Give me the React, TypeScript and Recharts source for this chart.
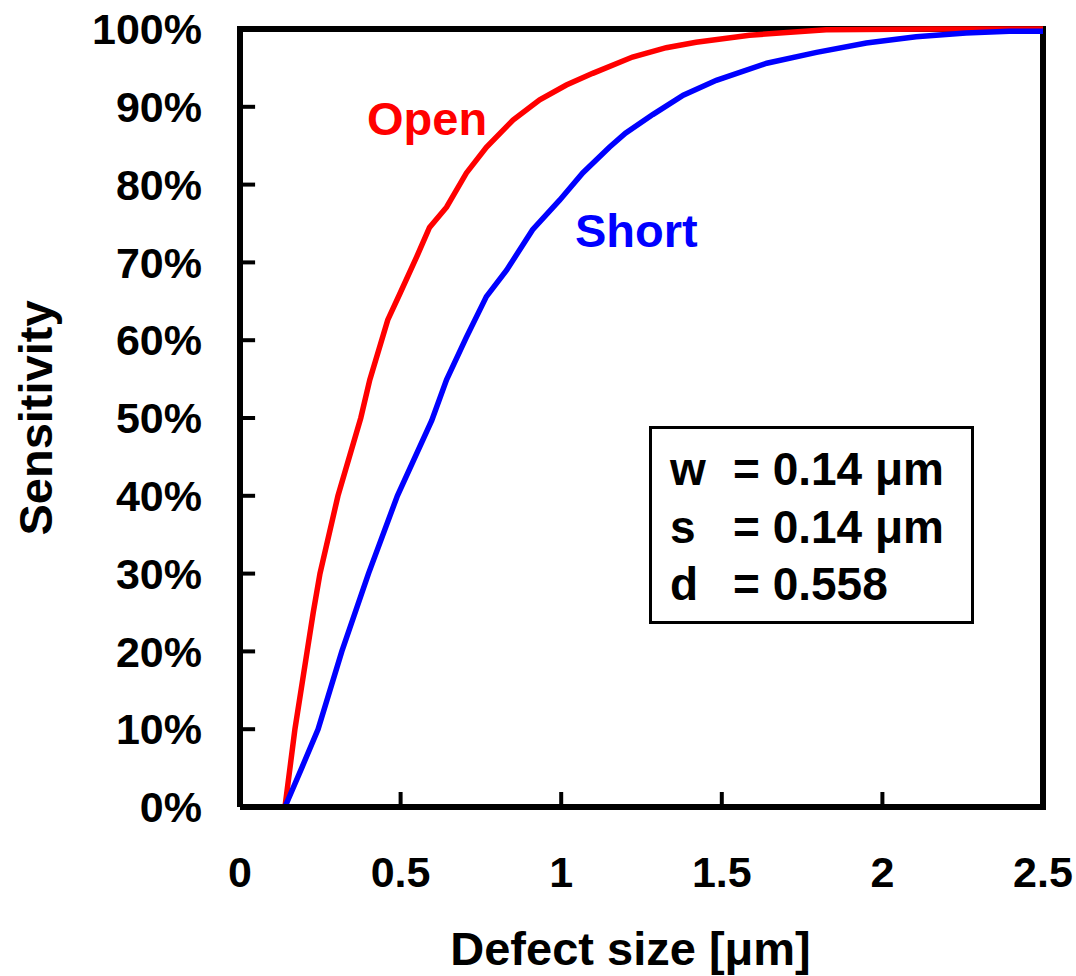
import React from 'react';
import { LineChart, Line, XAxis, YAxis, ReferenceLine } from 'recharts';

// Open (red) curve
const openX = [0.14, 0.171, 0.209, 0.228, 0.249, 0.305, 0.376, 0.404, 0.46, 0.498, 0.55, 0.59, 0.643, 0.705, 0.767, 0.85, 0.933, 1.016, 1.098, 1.222, 1.327, 1.42, 1.586, 1.825, 2.15, 2.5];
const openY = [0, 0.1, 0.2, 0.25, 0.3, 0.4, 0.5, 0.549, 0.626, 0.66, 0.707, 0.745, 0.771, 0.815, 0.848, 0.883, 0.909, 0.928, 0.943, 0.964, 0.976, 0.983, 0.992, 0.999, 1.0, 1.0];

// Short (blue) curve
const shortX = [0.14, 0.193, 0.243, 0.317, 0.4, 0.49, 0.597, 0.643, 0.705, 0.767, 0.83, 0.911, 0.995, 1.067, 1.15, 1.2, 1.285, 1.38, 1.483, 1.64, 1.795, 1.95, 2.105, 2.26, 2.395, 2.5];
const shortY = [0, 0.051, 0.1, 0.2, 0.3, 0.4, 0.497, 0.549, 0.604, 0.656, 0.69, 0.742, 0.78, 0.815, 0.848, 0.866, 0.89, 0.915, 0.934, 0.956, 0.97, 0.982, 0.99, 0.995, 0.997, 0.997];

const xTicks = [0, 0.5, 1, 1.5, 2, 2.5];
const yTicks = [0, 0.1, 0.2, 0.3, 0.4, 0.5, 0.6, 0.7, 0.8, 0.9, 1];

const params = [
  { name: 'w', value: '= 0.14 μm' },
  { name: 's', value: '= 0.14 μm' },
  { name: 'd', value: '= 0.558' },
];

const openData = openX.map((x, i) => ({ x, y: openY[i] }));
const shortData = shortX.map((x, i) => ({ x, y: shortY[i] }));

// inward tick marks, in axis units (~15px long)
const Y_TICK_LEN = 0.047;
const X_TICK_LEN = 0.0193;
const yTickMarks = yTicks.slice(1, -1).map((v) => [{ x: 0, y: v }, { x: Y_TICK_LEN, y: v }]);
const xTickMarks = xTicks.slice(1, -1).map((v) => [{ x: v, y: 0 }, { x: v, y: X_TICK_LEN }]);

const FONT = '"Liberation Sans", Arial, sans-serif';
const frame = { stroke: '#000', strokeWidth: 6 };
const tickFont = { fill: '#000', fontSize: 43, fontWeight: 'bold', fontFamily: FONT };
const titleFont = { fill: '#000', fontSize: 47, fontWeight: 'bold', fontFamily: FONT };

const note = (left: number, top: number, color: string, size: number): React.CSSProperties => ({
  position: 'absolute',
  left,
  top,
  color,
  fontFamily: FONT,
  fontWeight: 'bold',
  fontSize: size,
  lineHeight: `${size}px`,
  whiteSpace: 'pre',
});

export default function App() {
  return (
    <div style={{ position: 'absolute', left: 0, top: 0, width: 1076, height: 976, background: '#fff' }}>
      <LineChart width={1076} height={976} margin={{ top: 29, right: 33, left: 0, bottom: 0 }}>
        <XAxis
          type="number"
          dataKey="x"
          domain={[0, 2.5]}
          ticks={xTicks}
          interval={0}
          height={169}
          axisLine={frame}
          tickLine={false}
          tickSize={0}
          tickMargin={49}
          tick={tickFont}
          label={{ value: 'Defect size [μm]', position: 'insideBottom', offset: 11, dx: -11, style: titleFont }}
        />
        <YAxis
          type="number"
          domain={[0, 1]}
          ticks={yTicks}
          interval={0}
          width={240}
          axisLine={frame}
          tickLine={false}
          tickSize={0}
          tickMargin={38}
          tick={tickFont}
          tickFormatter={(v: number) => `${Math.round(v * 100)}%`}
          label={{ value: 'Sensitivity', angle: -90, position: 'insideLeft', offset: 35, style: { ...titleFont, textAnchor: 'middle' } }}
        />
        <ReferenceLine y={1} stroke="#000" strokeWidth={6} strokeLinecap="square" />
        <ReferenceLine x={2.5} stroke="#000" strokeWidth={6} strokeLinecap="square" />
        {yTickMarks.map((seg, i) => (
          <Line key={`yt-${i}`} data={seg} dataKey="y" type="linear" stroke="#000" strokeWidth={4} dot={false} activeDot={false} legendType="none" isAnimationActive={false} />
        ))}
        {xTickMarks.map((seg, i) => (
          <Line key={`xt-${i}`} data={seg} dataKey="y" type="linear" stroke="#000" strokeWidth={4} dot={false} activeDot={false} legendType="none" isAnimationActive={false} />
        ))}
        <Line data={openData} dataKey="y" type="linear" stroke="#ff0000" strokeWidth={5.5} dot={false} isAnimationActive={false} />
        <Line data={shortData} dataKey="y" type="linear" stroke="#0000ff" strokeWidth={5.5} dot={false} isAnimationActive={false} />
      </LineChart>
      <div style={note(367, 95, '#ff0000', 47)}>Open</div>
      <div style={note(575, 207, '#0000ff', 47)}>Short</div>
      <div
        style={{
          position: 'absolute',
          left: 648.5,
          top: 425.5,
          width: 319,
          height: 192,
          border: '3px solid #000',
        }}
      />
      {params.map((p, i) => (
        <React.Fragment key={p.name}>
          <div style={note(670, 446 + i * 57.5, '#000', 46)}>{p.name}</div>
          <div style={note(733, 446 + i * 57.5, '#000', 46)}>{p.value}</div>
        </React.Fragment>
      ))}
    </div>
  );
}
